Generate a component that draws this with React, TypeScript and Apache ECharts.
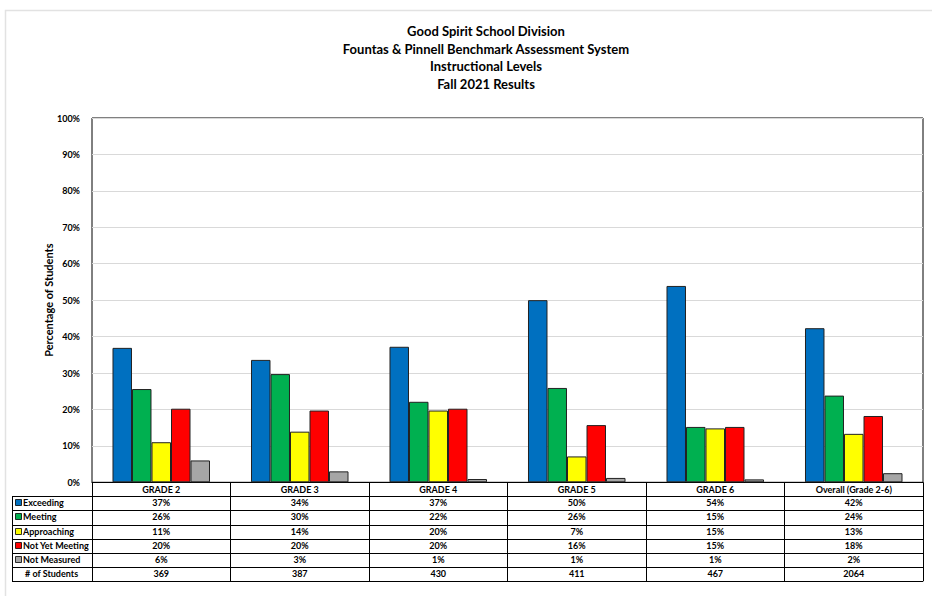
import React, { useEffect, useRef } from "react";
import * as echarts from "echarts";

const titleLines = [
  "Good Spirit School Division",
  "Fountas & Pinnell Benchmark Assessment System",
  "Instructional Levels",
  "Fall 2021 Results",
];
const categories = ["GRADE 2", "GRADE 3", "GRADE 4", "GRADE 5", "GRADE 6", "Overall (Grade 2-6)"];
const seriesNames = ["Exceeding", "Meeting", "Approaching", "Not Yet Meeting", "Not Measured"];
const seriesColors = ["#0070C0", "#00B050", "#FFFF00", "#FF0000", "#A6A6A6"];
// bar heights
const exceeding = [36.9, 33.6, 37.2, 50.0, 53.9, 42.3];
const meeting = [25.6, 29.7, 22.1, 25.9, 15.2, 23.8];
const approaching = [11.0, 13.9, 19.7, 7.1, 14.8, 13.3];
const notYetMeeting = [20.2, 19.7, 20.2, 15.7, 15.2, 18.2];
const notMeasured = [6.0, 3.0, 0.9, 1.2, 0.8, 2.5];
// table values as printed
const exceedingLabels = ["37%", "34%", "37%", "50%", "54%", "42%"];
const meetingLabels = ["26%", "30%", "22%", "26%", "15%", "24%"];
const approachingLabels = ["11%", "14%", "20%", "7%", "15%", "13%"];
const notYetMeetingLabels = ["20%", "20%", "20%", "16%", "15%", "18%"];
const notMeasuredLabels = ["6%", "3%", "1%", "1%", "1%", "2%"];
const students = ["369", "387", "430", "411", "467", "2064"];
const yTicks = { min: 0, max: 100, interval: 10 };

const FONT = "Lato, 'Open Sans', sans-serif";

export default function App() {
  const ref = useRef<HTMLDivElement>(null);
  useEffect(() => {
    if (!ref.current) return;
    const chart = echarts.init(ref.current, undefined, { renderer: "svg" });
    const W = 932;
    const L = 92, R = 923, T = 118, B = 482.3;
    const headH = 13.8;
    const rowH = 14.2;
    const tableLeft = 12;
    const seriesData = [exceeding, meeting, approaching, notYetMeeting, notMeasured];
    const rowLabels = [exceedingLabels, meetingLabels, approachingLabels, notYetMeetingLabels, notMeasuredLabels, students];
    const rowNames = [...seriesNames, "# of Students"];
    const rowTop = (k: number) => B + headH + k * rowH; // k = 0..6

    const graphic: any[] = [];
    graphic.push({
      type: "rect",
      shape: { x: 5.5, y: 10.5, width: 1000, height: 700 },
      style: { fill: "none", stroke: "#e2e2e2", lineWidth: 1.5 },
      silent: true,
      z: 0,
    });
    graphic.push({
      type: "text",
      x: 486,
      y: 22,
      style: {
        text: titleLines.join("\n"),
        font: `bold 13px ${FONT}`,
        fill: "#000",
        align: "center",
        verticalAlign: "top",
        lineHeight: 17.7,
      },
    });
    for (let k = 0; k <= 6; k++) {
      const y = Math.round(rowTop(k)) + 0.5;
      graphic.push({
        type: "line",
        shape: { x1: tableLeft, y1: y, x2: R, y2: y },
        style: { stroke: "#000", lineWidth: 1 },
        z: 10,
      });
    }
    graphic.push({
      type: "line",
      shape: { x1: tableLeft + 0.5, y1: Math.round(rowTop(0)) + 0.5, x2: tableLeft + 0.5, y2: Math.round(rowTop(6)) + 0.5 },
      style: { stroke: "#000", lineWidth: 1 },
      z: 10,
    });
    rowNames.forEach((name, i) => {
      const cy = rowTop(i) + rowH / 2 - 0.6;
      if (i < seriesColors.length) {
        graphic.push({
          type: "rect",
          shape: { x: 15.5, y: Math.round(cy - 3.5) + 0.5, width: 6, height: 6 },
          style: { fill: seriesColors[i], stroke: "#000", lineWidth: 0.8 },
          z: 10,
        });
      }
      graphic.push({
        type: "text",
        x: i < seriesColors.length ? 23 : 25,
        y: cy,
        style: {
          text: name,
          font: `bold 9px ${FONT}`,
          fill: "#000",
          align: "left",
          verticalAlign: "middle",
        },
        z: 10,
      });
    });

    const labelStyle = { fontSize: 9, fontWeight: "bold" as const, color: "#000", fontFamily: FONT };
    const extraAxes = rowLabels.map((labels, k) => ({
      type: "category" as const,
      data: labels,
      gridIndex: 0,
      position: "bottom" as const,
      offset: headH + k * rowH,
      axisLine: { show: false },
      axisTick: { show: false },
      splitLine: { show: false },
      axisLabel: { ...labelStyle, interval: 0, margin: 2, verticalAlign: "top" as const },
    }));

    chart.setOption({
      animation: false,
      backgroundColor: "#fff",
      graphic,
      grid: {
        left: L,
        right: W - R,
        top: T,
        bottom: 596 - B,
        show: true,
        borderColor: "#000",
        borderWidth: 1,
        containLabel: false,
      },
      xAxis: [
        {
          type: "category",
          data: categories,
          position: "bottom",
          axisLine: { show: true, lineStyle: { color: "#000", width: 1 } },
          axisTick: { show: true, length: headH + 6 * rowH, lineStyle: { color: "#000", width: 1 } },
          axisLabel: { ...labelStyle, interval: 0, margin: 3, verticalAlign: "top" },
          splitLine: { show: false },
        },
        ...extraAxes,
      ],
      yAxis: {
        type: "value",
        min: yTicks.min,
        max: yTicks.max,
        interval: yTicks.interval,
        axisLine: { show: false },
        axisTick: { show: false },
        axisLabel: { ...labelStyle, margin: 12, formatter: "{value}%" },
        splitLine: { lineStyle: { color: "#d9d9d9", width: 1 } },
        name: "Percentage of Students",
        nameLocation: "middle",
        nameRotate: 90,
        nameGap: 38,
        nameMoveOverlap: false,
        nameTextStyle: { fontSize: 11, fontWeight: "bold", color: "#000", fontFamily: FONT },
      },
      series: seriesNames.map((name, i) => ({
        name,
        type: "bar",
        xAxisIndex: 0,
        data: seriesData[i],
        barGap: "0%",
        barCategoryGap: "29.6%",
        itemStyle: { color: seriesColors[i], borderColor: "#222", borderWidth: 1 },
      })),
    });
    return () => chart.dispose();
  }, []);
  return (
    <div
      ref={ref}
      style={{ position: "fixed", left: 0, top: 0, width: 932, height: 596, background: "#fff" }}
    />
  );
}
